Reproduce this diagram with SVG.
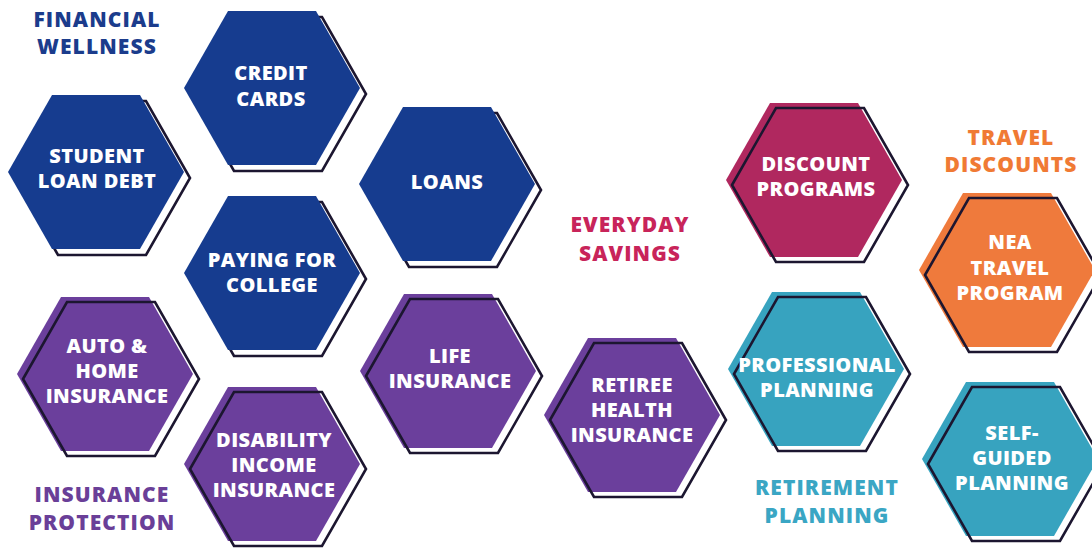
<svg xmlns="http://www.w3.org/2000/svg" xmlns:xlink="http://www.w3.org/1999/xlink" width="1092" height="549" viewBox="0 0 1092 549">
<defs>
<polygon id="hx" points="-88,0 -44,-77 44,-77 88,0 44,77 -44,77"/>
<style>
.lbl{font-family:"Open Sans","Liberation Sans",sans-serif;font-weight:800;font-size:20px;letter-spacing:0.4px;fill:#ffffff;text-anchor:middle}
.hd{font-family:"Open Sans","Liberation Sans",sans-serif;font-weight:800;font-size:21px;letter-spacing:1.1px;text-anchor:middle}
.ol{fill:none;stroke:#1c1630;stroke-width:2.6}
.olw{fill:#ffffff;stroke:#1c1630;stroke-width:2.6}
.blue{fill:#163c8f}
.purple{fill:#6b3f9c}
.mag{fill:#b0285f}
.orange{fill:#ef7a3c}
.teal{fill:#37a3bf}
</style>
</defs>
<rect width="1092" height="549" fill="#ffffff"/>

<g id="headings">
<text class="hd" fill="#1b3c8c" x="97" y="27">FINANCIAL</text>
<text class="hd" fill="#1b3c8c" x="97" y="54">WELLNESS</text>
<text class="hd" fill="#6a3f98" x="102" y="502">INSURANCE</text>
<text class="hd" fill="#6a3f98" x="102" y="530">PROTECTION</text>
<text class="hd" fill="#c8245a" x="630" y="232">EVERYDAY</text>
<text class="hd" fill="#c8245a" x="630" y="261">SAVINGS</text>
<text class="hd" fill="#f07a34" x="1011" y="145">TRAVEL</text>
<text class="hd" fill="#f07a34" x="1011" y="172">DISCOUNTS</text>
<text class="hd" fill="#3aa6c4" x="827" y="495">RETIREMENT</text>
<text class="hd" fill="#3aa6c4" x="827" y="523">PLANNING</text>
</g>

<g id="connectors"></g>

<g id="credit-cards">
<use xlink:href="#hx" class="olw" transform="translate(278,94)"/>
<use xlink:href="#hx" class="blue" transform="translate(272,88)"/>
<text class="lbl" x="271" y="80">CREDIT</text>
<text class="lbl" x="271" y="106">CARDS</text>
</g>

<g id="student-loan-debt">
<use xlink:href="#hx" class="olw" transform="translate(102,178)"/>
<use xlink:href="#hx" class="blue" transform="translate(96,172)"/>
<text class="lbl" x="97" y="163">STUDENT</text>
<text class="lbl" x="97" y="188">LOAN DEBT</text>
</g>

<g id="loans">
<use xlink:href="#hx" class="olw" transform="translate(453,190)"/>
<use xlink:href="#hx" class="blue" transform="translate(447,184)"/>
<text class="lbl" x="447" y="189">LOANS</text>
</g>

<g id="paying-for-college">
<use xlink:href="#hx" class="olw" transform="translate(278,279)"/>
<use xlink:href="#hx" class="blue" transform="translate(272,273)"/>
<text class="lbl" x="272" y="267">PAYING FOR</text>
<text class="lbl" x="272" y="292">COLLEGE</text>
</g>

<g id="auto-home-insurance">
<use xlink:href="#hx" class="purple" transform="translate(105,374)"/>
<use xlink:href="#hx" class="ol" transform="translate(111,379)"/>
<text class="lbl" x="107" y="353">AUTO &amp;</text>
<text class="lbl" x="107" y="378">HOME</text>
<text class="lbl" x="107" y="403">INSURANCE</text>
</g>

<g id="disability-income-insurance">
<use xlink:href="#hx" class="purple" transform="translate(272,464)"/>
<use xlink:href="#hx" class="ol" transform="translate(278,469)"/>
<text class="lbl" x="274" y="447">DISABILITY</text>
<text class="lbl" x="274" y="472">INCOME</text>
<text class="lbl" x="274" y="497">INSURANCE</text>
</g>

<g id="life-insurance">
<use xlink:href="#hx" class="purple" transform="translate(448,371)"/>
<use xlink:href="#hx" class="ol" transform="translate(454,376)"/>
<text class="lbl" x="450" y="363">LIFE</text>
<text class="lbl" x="450" y="388">INSURANCE</text>
</g>

<g id="retiree-health-insurance">
<use xlink:href="#hx" class="purple" transform="translate(632,415)"/>
<use xlink:href="#hx" class="ol" transform="translate(638,420)"/>
<text class="lbl" x="632" y="392">RETIREE</text>
<text class="lbl" x="632" y="417">HEALTH</text>
<text class="lbl" x="632" y="442">INSURANCE</text>
</g>

<g id="discount-programs">
<use xlink:href="#hx" class="mag" transform="translate(814,180)"/>
<use xlink:href="#hx" class="ol" transform="translate(820,185)"/>
<text class="lbl" x="816" y="171">DISCOUNT</text>
<text class="lbl" x="816" y="196">PROGRAMS</text>
</g>

<g id="professional-planning">
<use xlink:href="#hx" class="teal" transform="translate(816,369)"/>
<use xlink:href="#hx" class="ol" transform="translate(822,374)"/>
<text class="lbl" x="817" y="372">PROFESSIONAL</text>
<text class="lbl" x="817" y="397">PLANNING</text>
</g>

<g id="nea-travel-program">
<use xlink:href="#hx" class="orange" transform="translate(1007,270)"/>
<use xlink:href="#hx" class="ol" transform="translate(1013,275)"/>
<text class="lbl" x="1010" y="249">NEA</text>
<text class="lbl" x="1010" y="275">TRAVEL</text>
<text class="lbl" x="1010" y="300">PROGRAM</text>
</g>

<g id="self-guided-planning">
<use xlink:href="#hx" class="teal" transform="translate(1010,459)"/>
<use xlink:href="#hx" class="ol" transform="translate(1016,464)"/>
<text class="lbl" x="1012" y="440">SELF-</text>
<text class="lbl" x="1012" y="465">GUIDED</text>
<text class="lbl" x="1012" y="490">PLANNING</text>
</g>
</svg>
